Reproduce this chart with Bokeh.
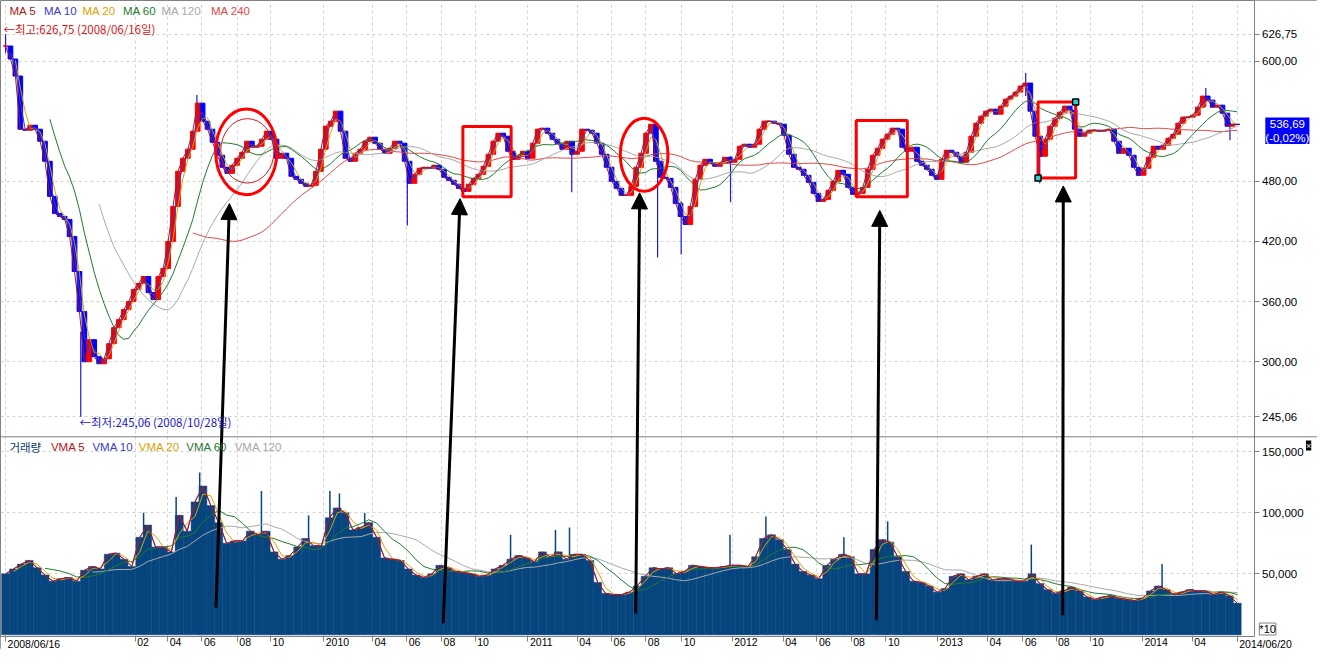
import numpy as np
import pandas as pd
from bokeh.plotting import figure
from bokeh.models import (Range1d, FixedTicker, Label, LabelSet, ColumnDataSource,
                          Arrow, NormalHead, Span)
from bokeh.core.properties import value
from bokeh.embed import file_html
from bokeh.resources import INLINE

# ---------------------------------------------------------------- data
FIRST_DATE, LAST_DATE = "2008-06-16", "2014-06-20"

close = [
    615, 602, 585, 532, 531, 536, 532, 520, 500, 465,
    448, 445, 442, 425, 390, 350, 300, 322, 305, 298,
    303, 318, 334, 342, 352, 360, 372, 378, 385, 369,
    362, 385, 393, 420, 455, 490, 503, 512, 530, 558,
    540, 532, 519, 506, 494, 488, 496, 503, 509, 520,
    514, 515, 522, 530, 522, 503, 508, 503, 485, 482,
    478, 475, 476,
    490, 512, 535, 540, 550, 530, 503, 500, 508, 512,
    520, 524, 518, 512, 508, 513, 520, 518, 500, 478,
    487, 493, 494, 493, 496, 492, 484, 481, 477, 473,
    470, 477, 483, 487, 495, 507, 520, 528, 525, 510,
    502, 505, 510, 503, 518, 532, 533, 528, 522, 518,
    512, 520, 507, 510, 532, 531, 528, 518, 507, 494,
    480, 473, 466, 466, 475, 494, 508, 528, 537, 500,
    484, 483, 474, 458, 445, 437, 455, 482, 496, 502,
    498, 495, 498, 504, 499, 502, 515, 517, 514, 517,
    532, 540, 540, 538, 537, 526, 507, 494, 492, 486,
    479, 468, 460, 462, 471, 480, 491, 487, 474, 467,
    468, 474, 492, 506, 513, 522, 527, 533, 532, 514,
    510, 514, 500, 496, 492, 486, 482, 502, 511, 509,
    505, 499, 509, 525, 538, 545, 550, 552, 547, 555,
    562, 565, 569, 575, 578, 550, 525, 505, 522, 535,
    543, 549, 555, 551, 532, 525, 528, 531, 531, 530,
    531, 532, 520, 508, 513, 506, 494, 486, 493, 504,
    515, 512, 516, 523, 527, 538, 544, 544, 546, 554,
    565, 561, 554, 556, 548, 535, 537, 536.69,
]

# notable shadows (wicks)
wick_dates = ["2008-06-16", "2008-10-28", "2009-05-23", "2010-06-02", "2011-03-22",
              "2011-08-22", "2011-10-03", "2011-12-30", "2013-06-08", "2013-07-03",
              "2014-04-25", "2014-06-07"]
wick_low = [608, 245.06, 540, 436, 469, 404, 407, 459, 565, 478, 555, 521]
wick_high = [626.75, 330, 566, 505, 515, 505, 460, 505, 588, 510, 573, 540]

# trading volume (thousands), sampled evenly between the first and last date
volume_k = [
    50, 54, 58, 61, 55, 49, 44, 46, 47, 44,
    53, 56, 54, 66, 67, 62, 56, 80, 90, 72,
    72, 68, 98, 85, 109, 122, 106, 92, 75, 77,
    77, 85, 82, 85, 68, 62, 65, 72, 79, 73,
    73, 96, 104, 100, 86, 88, 92, 80, 63, 62,
    61, 54, 49, 47, 50, 57, 55, 52, 51, 50,
    48, 49, 54, 57, 62, 65, 63, 60, 68, 64,
    68, 62, 66, 66, 61, 43, 34, 33, 33, 35,
    40, 48, 55, 54, 55, 50, 52, 57, 56, 55,
    55, 56, 57, 57, 56, 64, 79, 82, 78, 70,
    58, 52, 49, 46, 57, 62, 66, 64, 50, 50,
    70, 78, 76, 64, 52, 44, 43, 40, 35, 38,
    48, 50, 45, 48, 50, 45, 46, 46, 44, 44,
    50, 42, 37, 34, 36, 39, 36, 31, 29, 31,
    32, 30, 29, 28, 30, 36, 40, 37, 33, 35,
    37, 36, 36, 33, 35, 32, 26,
]
vol_peak_dates = ["2009-02-17", "2009-04-16", "2009-05-28", "2009-09-15", "2009-12-08",
                  "2010-01-15", "2010-02-01", "2010-03-18", "2010-12-03", "2011-02-21",
                  "2011-03-18", "2011-12-29", "2012-03-02", "2012-07-19", "2012-10-05",
                  "2013-06-18", "2014-02-06"]
vol_peak_k = [100, 113, 133, 118, 98, 118, 116, 100, 82, 86, 88, 82, 97, 80, 93, 74, 58]

high_value, high_date = 626.75, "2008/06/16"
low_value, low_date = 245.06, "2008/10/28"
last_price, last_change_pct = 536.69, -0.02

price_tick_values = [245.06, 300, 360, 420, 480, 600, 626.75]
vol_tick_values = [50000, 100000, 150000]

x_tick_dates = ["2008-06-16", "2009-02-02", "2009-04-01", "2009-06-01", "2009-08-03",
                "2009-10-01", "2010-01-04", "2010-04-01", "2010-06-01", "2010-08-02",
                "2010-10-01", "2011-01-03", "2011-04-01", "2011-06-01", "2011-08-01",
                "2011-10-04", "2012-01-02", "2012-04-02", "2012-06-01", "2012-08-01",
                "2012-10-02", "2013-01-02", "2013-04-01", "2013-06-03", "2013-08-01",
                "2013-10-01", "2014-01-02", "2014-04-01", "2014-06-20"]
x_tick_labels = ["2008/06/16", "02", "04", "06", "08", "10", "2010", "04", "06", "08",
                 "10", "2011", "04", "06", "08", "10", "2012", "04", "06", "08",
                 "10", "2013", "04", "06", "08", "10", "2014", "04", "2014/06/20"]

ma_names = ["MA 5", "MA 10", "MA 20", "MA 60", "MA 120", "MA 240"]
ma_colors = ["#a81818", "#3a3ad0", "#e0a000", "#1f7a2e", "#a8a8a8", "#e04848"]
ma_steps = [1, 2, 3, 10, 20, 39]          # MA length expressed in sample steps
vma_names = ["VMA 5", "VMA 10", "VMA 20", "VMA 60", "VMA 120"]
vma_colors = ["#c01010", "#3a3ad0", "#e0a000", "#1f7a2e", "#a8a8a8"]
vma_steps = [1, 1, 2, 6, 12]

# hand-drawn marks on the chart
ellipse_dates = ["2009-08-19", "2009-08-21", "2011-07-29"]
ellipse_y = [509.4, 510.4, 506.5]
ellipse_w_days = [109, 95, 85]
ellipse_h = [85.7, 64.3, 73.0]
ellipse_lw = [3, 1, 3]
ellipse_col = ["#ff0000", "#c81c1c", "#ff0000"]
box_left = ["2010-09-09", "2012-08-10", "2013-06-30"]
box_right = ["2010-12-04", "2012-11-09", "2013-09-05"]
box_top = [534.8, 540.6, 559.1]
box_bottom = [464.7, 464.7, 483.2]
arrow_start_dates = ["2009-06-26", "2010-08-05", "2011-07-14", "2012-09-15", "2013-08-13"]
arrow_start_y = [54.7, 39.1, 48.9, 42.0, 47.0]
arrow_end_dates = ["2009-07-20", "2010-09-04", "2011-07-21", "2012-09-21", "2013-08-14"]
arrow_end_y = [457.8, 462.7, 468.5, 451.0, 475.4]

# ---------------------------------------------------------------- layout constants
def ms(d):
    return pd.Timestamp(d).value / 1e6

def comma2(v):
    return f"{v:.2f}".replace(".", ",")

X_START, X_END = "2008-06-07", "2014-11-10"   # whole canvas width
AXIS_DATE = "2014-07-20"                      # where the price/volume axis sits
P_LO, P_HI = 12.9, 660.4                      # whole canvas height in price units
AXIS_Y = 25.5                                 # where the date axis sits
V_LO, V_HI = -12000, 520000                   # same height in volume units
PANEL_SPLIT = 225.1                           # price units where the volume pane begins

def vol_to_price(v):
    return P_LO + (v - V_LO) / (V_HI - V_LO) * (P_HI - P_LO)

W, H = 1317, 649
KX, KY = W / 1333.0, H / 665.0

def sx(rx):
    return rx * KX

def sy(ry):
    return (665 - ry) * KY

NUMFONT = "Liberation Sans"
KFONT = "Noto Sans CJK KR"
NAVY = "#07457f"

# ---------------------------------------------------------------- figure
p = figure(width=W, height=H, x_axis_type="datetime", y_axis_location="right",
           x_range=Range1d(pd.Timestamp(X_START), pd.Timestamp(X_END)),
           y_range=Range1d(P_LO, P_HI),
           output_backend="svg", toolbar_location=None,
           min_border_left=0, min_border_right=0, min_border_top=0, min_border_bottom=0)
p.extra_y_ranges = {"vol": Range1d(V_LO, V_HI)}
p.outline_line_color = "#808080"
p.background_fill_color = "white"

# axes (placed inside the canvas like the original chart)
yt = list(price_tick_values) + [vol_to_price(v) for v in vol_tick_values]
overrides = {float(v): comma2(v) for v in price_tick_values}
for v in vol_tick_values:
    overrides[float(vol_to_price(v))] = f"{v:,}"
p.yaxis.fixed_location = ms(AXIS_DATE)
p.yaxis.bounds = (AXIS_Y, P_HI)
p.yaxis.ticker = FixedTicker(ticks=[float(t) for t in yt])
p.yaxis.major_label_overrides = overrides
p.yaxis.major_label_text_font = NUMFONT
p.yaxis.major_label_text_font_size = "11.5px"
p.yaxis.major_label_text_color = "#000000"
p.yaxis.axis_line_color = "#808080"
p.yaxis.major_tick_line_color = "#808080"
p.yaxis.major_tick_in = 0
p.yaxis.major_tick_out = 5
p.yaxis.minor_tick_line_color = None
p.yaxis.major_label_standoff = 3

xt = [ms(d) for d in x_tick_dates]
p.xaxis.fixed_location = AXIS_Y
p.xaxis.bounds = (ms(X_START), ms(AXIS_DATE))
p.xaxis.ticker = FixedTicker(ticks=xt)
p.xaxis.major_label_text_font_size = "0px"
p.xaxis.major_label_text_color = None
p.xaxis.axis_line_color = "#808080"
p.xaxis.major_tick_line_color = "#808080"
p.xaxis.major_tick_in = 0
p.xaxis.major_tick_out = 5
p.xaxis.minor_tick_line_color = None
p.xaxis.major_label_standoff = 0

for g in (p.xgrid, p.ygrid):
    g.grid_line_color = "#d2d2d2"
    g.grid_line_dash = "3 3"
    g.grid_line_width = 1

# blank margins (axis strip on the right, date strip at the bottom) over the grid
p.quad(left=[ms(AXIS_DATE), ms(X_START)], right=[ms(X_END), ms(X_END)],
       bottom=[P_LO, P_LO], top=[P_HI, AXIS_Y], fill_color="white", line_color=None)

# ---------------------------------------------------------------- volume pane
vol = np.array(volume_k, dtype=float) * 1000
vol_dates = pd.date_range(FIRST_DATE, LAST_DATE, periods=len(vol))
vstep = (vol_dates[1] - vol_dates[0]).total_seconds() * 1000
p.vbar(x=vol_dates, top=vol, bottom=0, width=vstep, y_range_name="vol",
       fill_color=NAVY, line_color=NAVY, line_width=0.5)
pk_x = [pd.Timestamp(d) for d in vol_peak_dates]
p.segment(x0=pk_x, y0=[0] * len(pk_x), x1=pk_x, y1=np.array(vol_peak_k) * 1000,
          y_range_name="vol", line_color=NAVY, line_width=1.5)
vs = pd.Series(vol)
for name, col, n in reversed(list(zip(vma_names, vma_colors, vma_steps))):
    p.line(vol_dates, vs.rolling(n).mean().values, y_range_name="vol",
           line_color=col, line_width=1)

p.add_layout(Span(location=PANEL_SPLIT, dimension="width", line_color="#808080", line_width=1))

# ---------------------------------------------------------------- price pane
c = np.array(close, dtype=float)
price_dates = pd.date_range(FIRST_DATE, LAST_DATE, periods=len(c))
pstep = (price_dates[1] - price_dates[0]).total_seconds() * 1000
o = np.concatenate([[c[0]], c[:-1]])
colors = np.where(c >= o, "#ff0000", "#0000ff")
src = ColumnDataSource(dict(x=price_dates, top=np.maximum(o, c), bottom=np.minimum(o, c), color=colors))
wx = [pd.Timestamp(d) for d in wick_dates]
p.segment(x0=wx, y0=wick_low, x1=wx, y1=wick_high, line_color="#1a1ae0", line_width=1.2)
p.vbar(x="x", top="top", bottom="bottom", width=pstep * 0.95, fill_color="color",
       line_color="color", line_width=1, source=src)

cs = pd.Series(c)
for name, col, n in reversed(list(zip(ma_names, ma_colors, ma_steps))):
    p.line(price_dates, cs.rolling(n).mean().values, line_color=col, line_width=1)

# ---------------------------------------------------------------- drawn marks
p.ellipse(x=[pd.Timestamp(d) for d in ellipse_dates], y=ellipse_y,
          width=[d * 86400000 for d in ellipse_w_days], height=ellipse_h,
          fill_color=None, line_color=ellipse_col, line_width=ellipse_lw)
p.quad(left=[pd.Timestamp(d) for d in box_left], right=[pd.Timestamp(d) for d in box_right],
       top=box_top, bottom=box_bottom, fill_color=None, line_color="#ff0000", line_width=3)
p.scatter(x=[pd.Timestamp(box_right[2]), pd.Timestamp(box_left[2])], y=[box_top[2], box_bottom[2]],
          marker="square", size=6, fill_color="#30d0d0", line_color="#000000", line_width=1.5)

asrc = ColumnDataSource(dict(x0=[ms(d) for d in arrow_start_dates], y0=arrow_start_y,
                             x1=[ms(d) for d in arrow_end_dates], y1=arrow_end_y))
p.add_layout(Arrow(end=NormalHead(size=16, fill_color="#000000", line_color="#000000"),
                   x_start="x0", y_start="y0", x_end="x1", y_end="y1", source=asrc,
                   line_color="#000000", line_width=3))

# ---------------------------------------------------------------- texts
xsrc = ColumnDataSource(dict(x=xt, y=[AXIS_Y] * len(xt), text=x_tick_labels))
p.add_layout(LabelSet(x="x", y="y", text="text", source=xsrc,
                      x_offset=2, y_offset=-1, text_align="left", text_baseline="top",
                      text_font=value(NUMFONT), text_font_size="10.5px", text_color="#000000"))

ma_x = [9, 44, 83, 124, 163, 213]
for name, col, rx in zip(ma_names, ma_colors, ma_x):
    p.add_layout(Label(x=sx(rx), y=sy(11), x_units="screen", y_units="screen", text=name,
                       text_color=col, text_font=NUMFONT, text_font_size="11.5px",
                       text_baseline="middle"))
vma_x = [51, 93, 140, 188, 237]
p.add_layout(Label(x=sx(9), y=sy(458), x_units="screen", y_units="screen", text="거래량",
                   text_color="#0a3a70", text_font=KFONT, text_font_size="11.5px",
                   text_baseline="middle"))
for name, col, rx in zip(vma_names, vma_colors, vma_x):
    p.add_layout(Label(x=sx(rx), y=sy(458), x_units="screen", y_units="screen", text=name,
                       text_color=col, text_font=NUMFONT, text_font_size="11.5px",
                       text_baseline="middle"))

p.add_layout(Label(x=sx(3), y=sy(29), x_units="screen", y_units="screen",
                   text=f"←최고:{comma2(high_value)} ({high_date}일)", text_color="#d01818",
                   text_font=KFONT, text_font_size="11.5px", text_baseline="middle"))
p.add_layout(Label(x=sx(80), y=sy(432), x_units="screen", y_units="screen",
                   text=f"←최저:{comma2(low_value)} ({low_date}일)", text_color="#1818c8",
                   text_font=KFONT, text_font_size="11.5px", text_baseline="middle"))

p.add_layout(Label(x=sx(1302.5), y=sy(133.5), x_units="screen", y_units="screen",
                   text=f"{comma2(last_price)}\n({comma2(last_change_pct)}%)",
                   text_color="#ffffff", background_fill_color="#0000ff",
                   text_font=NUMFONT, text_font_size="11.5px",
                   text_align="center", text_baseline="middle"))
p.add_layout(Label(x=sx(1282.5), y=sy(644), x_units="screen", y_units="screen", text="*10",
                   text_color="#000000", border_line_color="#808080",
                   text_font=NUMFONT, text_font_size="11px",
                   text_align="center", text_baseline="middle"))
p.add_layout(Label(x=sx(1324), y=sy(456), x_units="screen", y_units="screen", text="×",
                   text_color="#ffffff", background_fill_color="#000000",
                   text_font=NUMFONT, text_font_size="9px",
                   text_align="center", text_baseline="middle"))

open("out.html", "w").write(file_html(p, INLINE))
